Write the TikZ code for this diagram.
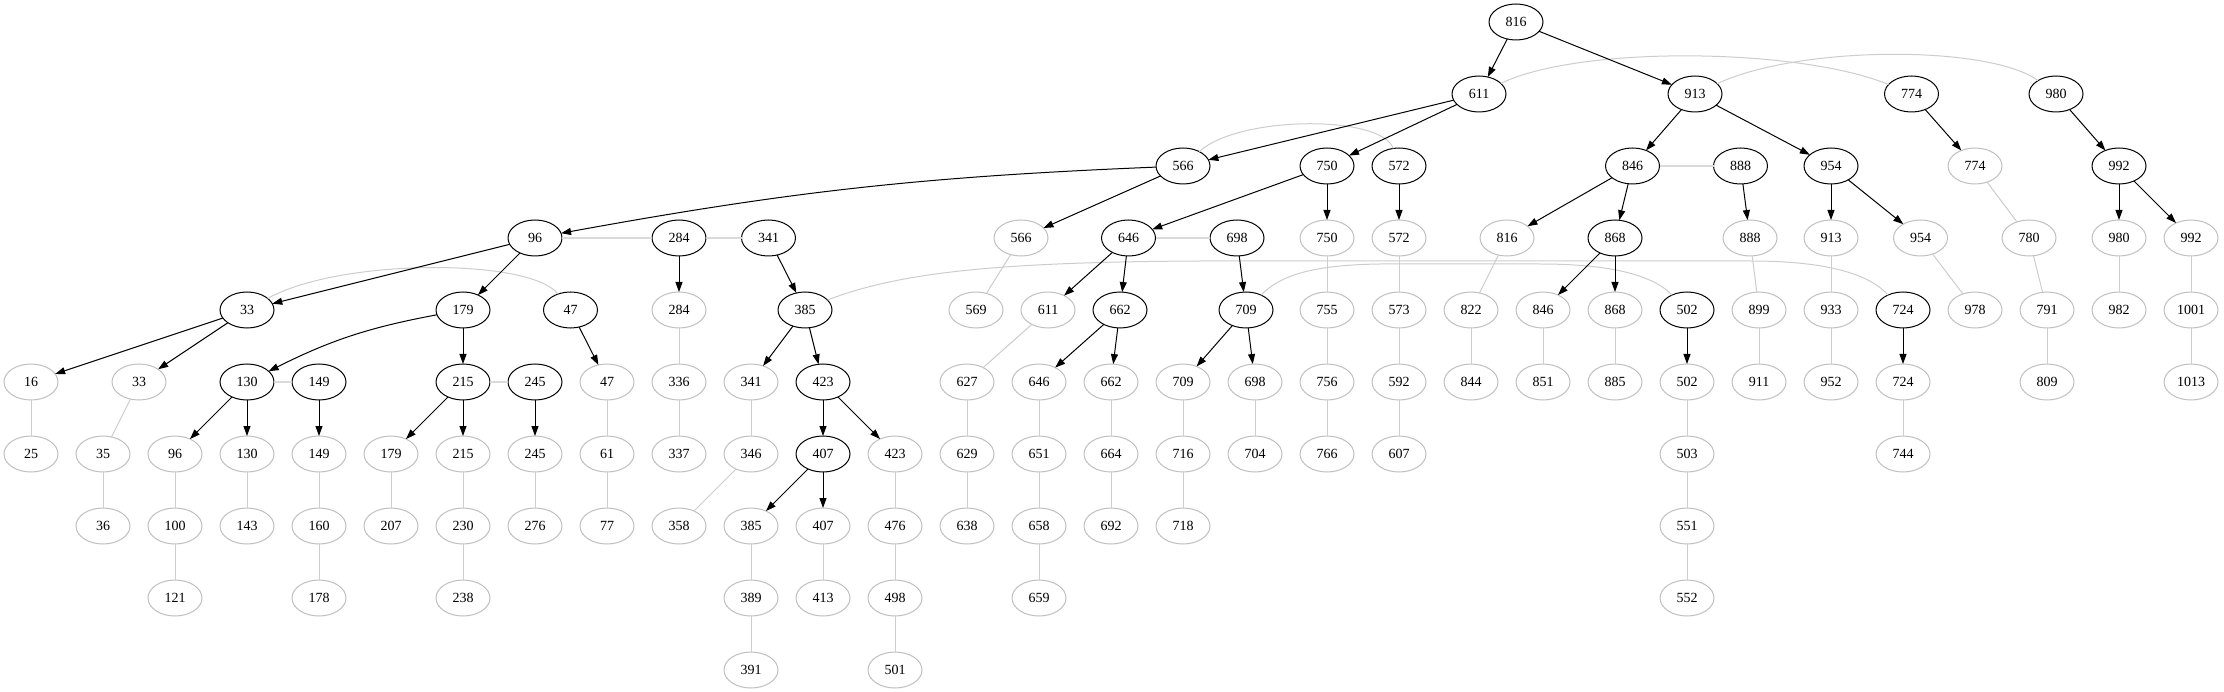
\documentclass[tikz,border=0pt]{standalone}
\usepackage{fontspec}
\setmainfont{Liberation Serif}
\usetikzlibrary{shapes.geometric,arrows.meta}
\definecolor{ngray}{RGB}{192,192,192}
\definecolor{egray}{RGB}{205,205,205}
\definecolor{tgray}{RGB}{218,218,218}
\begin{document}
\begin{tikzpicture}[x=1pt,y=-1pt,
 nd/.style={ellipse,minimum width=54pt,minimum height=36pt,inner sep=0pt,outer sep=0pt,line width=1pt,font=\fontsize{14}{16}\selectfont},
 bn/.style={nd,draw=black},
 gn/.style={nd,draw=ngray},
 arr/.style={line width=1pt,-{Triangle[length=10pt,width=7pt]}},
 gl/.style={line width=1pt,draw=egray},
 thk/.style={line width=2.5pt,draw=tgray},
 crv/.style={line width=1pt,draw=egray}]
\fill[white] (0,0) rectangle (2224,692);
\useasboundingbox (0,0) rectangle (2224,692);
% row 0
\node[bn] (b816) at (1516,22) {816};
% row 1
\node[bn] (b611) at (1479,94) {611};
\node[bn] (b913) at (1695,94) {913};
\node[bn] (b774) at (1911.5,94) {774};
\node[bn] (b980) at (2056,94) {980};
% row 2
\node[bn] (b566) at (1183,166) {566};
\node[bn] (b750) at (1327,166) {750};
\node[bn] (b572) at (1399,166) {572};
\node[bn] (b846) at (1632.5,166) {846};
\node[bn] (b888) at (1740.5,166) {888};
\node[bn] (b954) at (1831,166) {954};
\node[gn] (g774) at (1975,166) {774};
\node[bn] (b992) at (2119,166) {992};
% row 3
\node[bn] (b96) at (535,238) {96};
\node[bn] (b284) at (679,238) {284};
\node[bn] (b341) at (768.5,238) {341};
\node[gn] (g566) at (1021,238) {566};
\node[bn] (b646) at (1128.5,238) {646};
\node[bn] (b698) at (1237,238) {698};
\node[gn] (g750) at (1327,238) {750};
\node[gn] (g572) at (1399,238) {572};
\node[gn] (g816) at (1507,238) {816};
\node[bn] (b868) at (1615,238) {868};
\node[gn] (g888) at (1750,238) {888};
\node[gn] (g913) at (1831,238) {913};
\node[gn] (g954) at (1920.5,238) {954};
\node[gn] (g780) at (2029,238) {780};
\node[gn] (g980) at (2119,238) {980};
\node[gn] (g992) at (2191,238) {992};
% row 4
\node[bn] (b33) at (247,310) {33};
\node[bn] (b179) at (463,310) {179};
\node[bn] (b47) at (570.5,310) {47};
\node[gn] (g284) at (679,310) {284};
\node[bn] (b385) at (805,310) {385};
\node[gn] (g569) at (976,310) {569};
\node[gn] (g611) at (1048,310) {611};
\node[bn] (b662) at (1120,310) {662};
\node[bn] (b709) at (1246,310) {709};
\node[gn] (g755) at (1327,310) {755};
\node[gn] (g573) at (1399,310) {573};
\node[gn] (g822) at (1471,310) {822};
\node[gn] (g846) at (1543,310) {846};
\node[gn] (g868) at (1615,310) {868};
\node[bn] (b502) at (1687,310) {502};
\node[gn] (g899) at (1759,310) {899};
\node[gn] (g933) at (1831,310) {933};
\node[bn] (b724) at (1903,310) {724};
\node[gn] (g978) at (1975,310) {978};
\node[gn] (g791) at (2047,310) {791};
\node[gn] (g982) at (2119,310) {982};
\node[gn] (g1001) at (2191,310) {1001};
% row 5
\node[gn] (g16) at (31,382) {16};
\node[gn] (g33) at (139,382) {33};
\node[bn] (b130) at (247,382) {130};
\node[bn] (b149) at (319,382) {149};
\node[bn] (b215) at (463,382) {215};
\node[bn] (b245) at (535,382) {245};
\node[gn] (g47) at (607,382) {47};
\node[gn] (g336) at (679,382) {336};
\node[gn] (g341) at (751,382) {341};
\node[bn] (b423) at (823,382) {423};
\node[gn] (g627) at (967,382) {627};
\node[gn] (g646) at (1039,382) {646};
\node[gn] (g662) at (1111,382) {662};
\node[gn] (g709) at (1183,382) {709};
\node[gn] (g698) at (1255,382) {698};
\node[gn] (g756) at (1327,382) {756};
\node[gn] (g592) at (1399,382) {592};
\node[gn] (g844) at (1471,382) {844};
\node[gn] (g851) at (1543,382) {851};
\node[gn] (g885) at (1615,382) {885};
\node[gn] (g502) at (1687,382) {502};
\node[gn] (g911) at (1759,382) {911};
\node[gn] (g952) at (1831,382) {952};
\node[gn] (g724) at (1903,382) {724};
\node[gn] (g809) at (2047,382) {809};
\node[gn] (g1013) at (2191,382) {1013};
% row 6
\node[gn] (g25) at (31,454) {25};
\node[gn] (g35) at (103,454) {35};
\node[gn] (g96) at (175,454) {96};
\node[gn] (g130) at (247,454) {130};
\node[gn] (g149) at (319,454) {149};
\node[gn] (g179) at (391,454) {179};
\node[gn] (g215) at (463,454) {215};
\node[gn] (g245) at (535,454) {245};
\node[gn] (g61) at (607,454) {61};
\node[gn] (g337) at (679,454) {337};
\node[gn] (g346) at (751,454) {346};
\node[bn] (b407) at (823,454) {407};
\node[gn] (g423) at (895,454) {423};
\node[gn] (g629) at (967,454) {629};
\node[gn] (g651) at (1039,454) {651};
\node[gn] (g664) at (1111,454) {664};
\node[gn] (g716) at (1183,454) {716};
\node[gn] (g704) at (1255,454) {704};
\node[gn] (g766) at (1327,454) {766};
\node[gn] (g607) at (1399,454) {607};
\node[gn] (g503) at (1687,454) {503};
\node[gn] (g744) at (1903,454) {744};
% row 7
\node[gn] (g36) at (103,526) {36};
\node[gn] (g100) at (175,526) {100};
\node[gn] (g143) at (247,526) {143};
\node[gn] (g160) at (319,526) {160};
\node[gn] (g207) at (391,526) {207};
\node[gn] (g230) at (463,526) {230};
\node[gn] (g276) at (535,526) {276};
\node[gn] (g77) at (607,526) {77};
\node[gn] (g358) at (679,526) {358};
\node[gn] (g385) at (751,526) {385};
\node[gn] (g407) at (823,526) {407};
\node[gn] (g476) at (895,526) {476};
\node[gn] (g638) at (967,526) {638};
\node[gn] (g658) at (1039,526) {658};
\node[gn] (g692) at (1111,526) {692};
\node[gn] (g718) at (1183,526) {718};
\node[gn] (g551) at (1687,526) {551};
% row 8
\node[gn] (g121) at (175,598) {121};
\node[gn] (g178) at (319,598) {178};
\node[gn] (g238) at (463,598) {238};
\node[gn] (g389) at (751,598) {389};
\node[gn] (g413) at (823,598) {413};
\node[gn] (g498) at (895,598) {498};
\node[gn] (g659) at (1039,598) {659};
\node[gn] (g552) at (1687,598) {552};
% row 9
\node[gn] (g391) at (751,670) {391};
\node[gn] (g501) at (895,670) {501};

% thick same-rank links
\foreach \a/\b in {b96/b284,b284/b341,b646/b698,b846/b888,b130/b149,b215/b245}
  \draw[thk] (\a) -- (\b);

% curved same-rank links
\draw[crv] (b611) .. controls (1580,45) and (1800,48) .. (b774);
\draw[crv] (b913) .. controls (1800,45) and (1990,45) .. (b980);
\draw[crv] (b566) .. controls (1240,115) and (1382,115) .. (b572);
\draw[crv] (b33) .. controls (340,258) and (530,258) .. (b47);
\draw[crv] (b385.24) .. controls (900,272) and (1000,262) .. (1200,261) -- (1750,261) .. controls (1830,261) and (1870,275) .. (b724.135);
\draw[crv] (b709.45) .. controls (1280,276) and (1310,265) .. (1380,264) -- (1540,264) .. controls (1600,264) and (1650,272) .. (b502.135);

% gray tree lines
\foreach \a/\b in {g566/g569,g611/g627,g816/g822,g888/g899,g954/g978,g774/g780,g780/g791,g791/g809,
  g992/g1001,g1001/g1013,g980/g982,g913/g933,g933/g952,g750/g755,g755/g756,g756/g766,
  g572/g573,g573/g592,g592/g607,g846/g851,g868/g885,g822/g844,g899/g911,g502/g503,g503/g551,
  g551/g552,g724/g744,g284/g336,g336/g337,g341/g346,g346/g358,g47/g61,g61/g77,g16/g25,
  g33/g35,g35/g36,g96/g100,g100/g121,g130/g143,g149/g160,g160/g178,g179/g207,g215/g230,
  g230/g238,g245/g276,g385/g389,g389/g391,g407/g413,g423/g476,g476/g498,g498/g501,
  g627/g629,g629/g638,g646/g651,g651/g658,g658/g659,g662/g664,g664/g692,g709/g716,
  g716/g718,g698/g704}
  \draw[gl] (\a) -- (\b);

% black arrows
\foreach \a/\b in {b816/b611,b816/b913,b611/b566,b611/b750,b913/b846,b913/b954,b774/g774,
  b980/b992,b566/g566,b750/b646,b750/g750,b572/g572,b846/g816,b846/b868,b888/g888,
  b954/g913,b954/g954,b992/g980,b992/g992,b96/b33,b96/b179,b284/g284,b341/b385,
  b646/g611,b646/b662,b698/b709,b868/g846,b868/g868,b33/g16,b33/g33,b179/b215,
  b47/g47,b385/g341,b385/b423,b662/g646,b662/g662,b709/g709,b709/g698,b502/g502,
  b724/g724,b130/g96,b130/g130,b149/g149,b215/g179,b215/g215,b245/g245,b423/b407,
  b423/g423,b407/g385,b407/g407}
  \draw[arr] (\a) -- (\b);
\draw[arr] (b566) to[bend right=4] (b96);
\draw[arr] (b179) to[bend right=8] (b130);
\end{tikzpicture}
\end{document}
